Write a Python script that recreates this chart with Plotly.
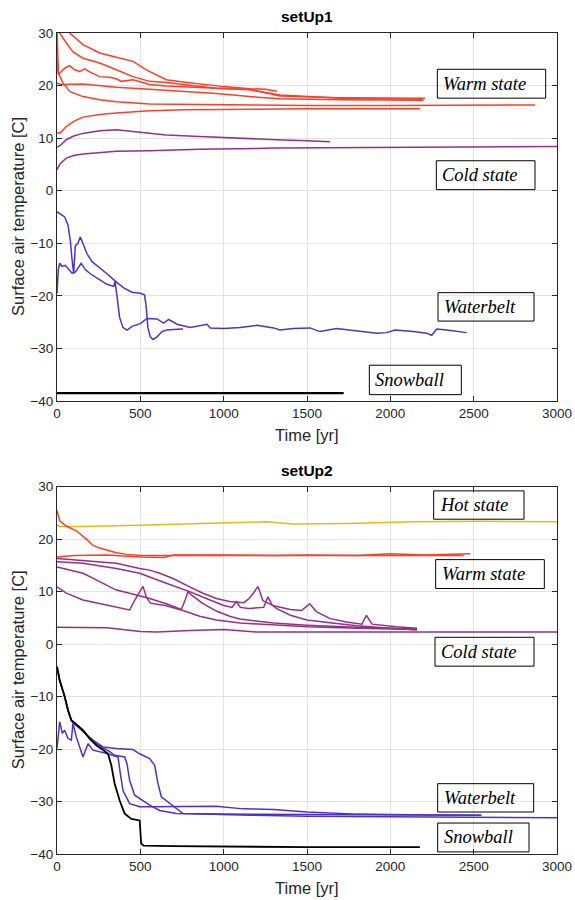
import plotly.graph_objects as go
from plotly.subplots import make_subplots

# ---------------- setUp1 data (time [yr], temperature [C]) ----------------
s1_warm_a_t = [0, 76, 156, 256, 356, 456, 536, 600, 656, 756, 856, 1000, 1156, 1250, 1320]
s1_warm_a_v = [34, 30, 27.8, 26.2, 25.4, 24.6, 23.0, 22.0, 21.1, 20.7, 20.3, 19.8, 19.4, 19.3, 18.9]
s1_warm_b_t = [0, 16, 56, 96, 156, 216, 256, 356, 456, 556, 656, 756, 956, 1156, 1338, 1700, 2000, 2208]
s1_warm_b_v = [32, 30, 28.1, 26.4, 25.2, 24.6, 24.3, 23.0, 21.7, 20.8, 20.6, 20.2, 19.5, 19.3, 18.0, 17.7, 17.6, 17.6]
s1_warm_c_t = [0, 8, 46, 76, 106, 136, 166, 196, 256, 316, 356, 386, 456, 556, 656, 856, 1156, 1338, 1700, 2190]
s1_warm_c_v = [25.2, 22.1, 23.3, 23.8, 23.0, 22.7, 23.2, 22.6, 21.7, 21.6, 21.3, 20.8, 21.1, 20.2, 19.9, 19.6, 19.2, 18.2, 17.6, 17.4]
s1_warm_d_t = [0, 20, 156, 356, 556, 756, 956, 1156, 1338, 1700, 2200]
s1_warm_d_v = [20.5, 20.2, 20.3, 19.7, 19.3, 18.9, 18.5, 17.9, 17.5, 17.3, 17.2]
s1_warm_e_t = [0, 8, 36, 76, 156, 256, 356, 556, 856, 1156, 1500, 2000, 2500, 2868]
s1_warm_e_v = [31, 22.4, 20.5, 18.9, 17.9, 17.3, 16.9, 16.5, 16.4, 16.3, 16.2, 16.2, 16.2, 16.3]
s1_warm_f_t = [0, 20, 56, 100, 156, 256, 356, 556, 756, 1156, 1500, 2178]
s1_warm_f_v = [11.0, 11.0, 12.2, 13.2, 14.0, 14.5, 14.8, 15.2, 15.4, 15.5, 15.6, 15.6]

s1_cold_a_t = [0, 20, 56, 100, 156, 256, 356, 456, 656, 856, 1056, 1316, 1500, 1638]
s1_cold_a_v = [8.3, 8.6, 9.7, 10.4, 10.9, 11.4, 11.6, 11.3, 10.6, 10.3, 10.0, 9.7, 9.5, 9.3]
s1_cold_b_t = [0, 20, 56, 100, 156, 256, 356, 556, 856, 1316, 2000, 2500, 3000]
s1_cold_b_v = [4.0, 5.2, 6.2, 6.7, 7.0, 7.3, 7.5, 7.6, 7.9, 8.1, 8.2, 8.3, 8.4]

s1_water_a_t = [0, 20, 46, 66, 80, 90, 100, 110, 125, 140, 160, 180, 210, 250, 300, 350, 400, 450,
                500, 525, 535, 545, 560, 576, 600, 630, 660, 700, 756]
s1_water_a_v = [-4.0, -4.4, -5.0, -6.5, -9.5, -13, -15.8, -10.5, -10.0, -8.8, -10.5, -12.0, -13.5, -14.5,
                -15.8, -17.2, -18.5, -19.3, -19.5, -19.8, -22, -26, -27.8, -28.3, -27.8, -26.8, -26.5, -26.4, -26.3]
s1_water_b_t = [0, 8, 16, 30, 50, 70, 90, 110, 130, 145, 170, 200, 250, 300, 340, 348, 360, 375, 395,
                420, 450, 500, 540, 600, 640, 670, 720, 800, 900, 920, 1000, 1100, 1200, 1300, 1338,
                1418, 1518, 1578, 1678, 1838, 1918, 1978, 2028, 2138, 2218, 2248, 2278, 2338, 2398, 2458]
s1_water_b_v = [-19.5, -15, -13.8, -14.4, -14.2, -15.0, -15.7, -15.5, -14.5, -13.8, -15.0, -15.8, -16.8,
                -17.8, -18.2, -17.3, -20.0, -24.0, -26.0, -26.5, -25.8, -25.3, -24.3, -24.4, -25.2, -24.5,
                -25.4, -26.0, -25.4, -26.1, -26.2, -26.0, -25.6, -26.1, -26.5, -26.2, -26.1, -26.8, -26.2,
                -26.8, -27.1, -27.0, -26.5, -26.8, -27.1, -27.5, -26.3, -26.5, -26.8, -27.0]

s1_snow_t = [0, 1720]
s1_snow_v = [-38.5, -38.5]

# ---------------- setUp2 data ----------------
s2_hot_t = [0, 20, 156, 356, 556, 756, 1056, 1256, 1416, 1738, 2138, 2538, 3000]
s2_hot_v = [22.7, 22.4, 22.4, 22.5, 22.7, 22.9, 23.1, 23.3, 22.9, 23.0, 23.3, 23.4, 23.3]

s2_warm_a_t = [0, 5, 16, 56, 116, 176, 216, 256, 296, 356, 420, 500, 700, 1000, 1500, 2000, 2440]
s2_warm_a_v = [25.5, 25.0, 23.5, 22.5, 21.6, 20.0, 18.8, 18.3, 17.9, 17.4, 17.1, 16.9, 16.9, 16.9, 16.9, 16.9, 16.9]
s2_warm_b_t = [0, 100, 300, 500, 640, 700, 1000, 1300, 1500, 1800, 2000, 2200, 2480]
s2_warm_b_v = [16.6, 16.9, 17.0, 16.6, 16.5, 17.0, 17.0, 16.9, 17.0, 16.9, 17.2, 17.0, 17.2]

s2_cold_a_t = [0, 156, 356, 496, 556, 616, 696, 796, 876, 956, 1036, 1120, 1150, 1180, 1206, 1235, 1300,
               1400, 1466, 1490, 1516, 1556, 1636, 1736, 1830, 1856, 1890, 2036, 2160]
s2_cold_a_v = [16.3, 15.9, 15.4, 14.4, 14.1, 13.5, 12.5, 10.9, 9.7, 8.7, 8.1, 7.9, 8.6, 9.8, 11.0, 8.3, 7.3,
               6.6, 6.4, 7.0, 7.7, 6.2, 4.9, 4.2, 3.8, 5.5, 3.8, 3.3, 3.0]
s2_cold_b_t = [0, 156, 356, 496, 656, 796, 896, 996, 1050, 1076, 1100, 1150, 1240, 1266, 1290, 1316, 1400,
               1500, 1650, 1800, 2000, 2160]
s2_cold_b_v = [15.7, 15.4, 14.4, 13.5, 11.6, 10.0, 8.7, 7.4, 7.0, 8.1, 7.0, 6.8, 7.0, 9.0, 7.5, 6.8, 5.5,
               4.6, 4.0, 3.5, 3.0, 2.7]
s2_cold_c_t = [0, 76, 156, 256, 356, 436, 556, 656, 746, 770, 786, 810, 876, 956, 1036, 1096, 1300, 1500, 1800, 2160]
s2_cold_c_v = [14.7, 14.1, 13.5, 11.9, 10.3, 9.7, 8.7, 7.7, 6.6, 8.5, 10.0, 9.3, 7.7, 6.3, 5.3, 4.8, 4.0, 3.6, 3.2, 2.9]
s2_cold_d_t = [0, 56, 156, 256, 356, 436, 460, 490, 516, 536, 560, 656, 756, 856, 956, 1100, 1300, 1500, 1800, 2160]
s2_cold_d_v = [10.9, 9.7, 8.4, 7.7, 7.1, 6.5, 8.0, 9.5, 11.0, 9.0, 7.8, 7.3, 6.4, 5.3, 4.6, 4.0, 3.6, 3.3, 3.0, 2.8]
s2_cold_e_t = [0, 300, 500, 600, 800, 1000, 1200, 1500, 2000, 2500, 3000]
s2_cold_e_v = [3.2, 3.1, 2.4, 2.3, 2.6, 2.8, 2.3, 2.3, 2.4, 2.4, 2.3]

s2_water_a_t = [0, 16, 32, 46, 66, 86, 96, 116, 156, 186, 216, 256, 306, 340, 366, 380, 396, 436, 496,
                556, 756, 956, 1116, 1300, 1500, 1800, 2100, 2400, 2546]
s2_water_a_v = [-19.9, -14.8, -17.0, -16.4, -18.0, -18.3, -15.1, -17.7, -21.5, -19.0, -20.2, -20.5, -20.9,
                -21.3, -21.5, -24.7, -27.9, -30.4, -31.0, -31.0, -30.9, -30.9, -31.4, -31.5, -32.0, -32.4,
                -32.5, -32.5, -32.6]
s2_water_b_t = [0, 16, 46, 66, 86, 96, 126, 156, 216, 276, 356, 456, 496, 556, 586, 606, 626, 676, 756,
                1156, 1500, 2000, 2500, 3000]
s2_water_b_v = [-4.3, -6.9, -10.0, -12.6, -14.5, -15.0, -15.8, -16.7, -18.3, -19.6, -19.9, -20.1, -20.9,
                -21.8, -23.1, -26.6, -29.1, -30.4, -32.3, -32.6, -32.8, -32.9, -33.0, -33.1]
s2_water_c_t = [0, 16, 46, 66, 86, 126, 156, 196, 236, 276, 316, 346, 406, 420, 436, 466, 516, 556, 616,
                716, 1000, 1500, 2000, 2546]
s2_water_c_v = [-4.3, -6.9, -10.0, -12.6, -14.5, -15.5, -16.4, -18.0, -19.0, -19.8, -20.5, -21.2, -21.5,
                -22.8, -26.0, -28.8, -29.8, -30.7, -31.7, -32.3, -32.4, -32.5, -32.5, -32.6]

s2_snow_t = [0, 16, 46, 66, 86, 126, 156, 196, 236, 276, 306, 326, 346, 376, 406, 446, 486, 496, 505,
             520, 700, 1000, 1500, 2177]
s2_snow_v = [-4.3, -6.9, -10.0, -12.6, -14.5, -15.5, -16.4, -18.0, -19.3, -20.2, -20.9, -23.1, -26.6,
             -29.8, -32.3, -33.3, -33.6, -33.6, -38.0, -38.4, -38.5, -38.6, -38.7, -38.7]

# state label boxes: (text, t_left, t_right, v_bottom, v_top)
s1_labels = [("Warm state", 2282, 2932, 17.6, 23.1),
             ("Cold state", 2276, 2868, 0.2, 5.7),
             ("Waterbelt", 2286, 2862, -24.8, -19.4),
             ("Snowball", 1874, 2426, -38.8, -33.2)]
s2_labels = [("Hot state", 2260, 2802, 23.8, 29.2),
             ("Warm state", 2272, 2924, 10.6, 16.1),
             ("Cold state", 2268, 2862, -4.2, 1.3),
             ("Waterbelt", 2284, 2860, -32.0, -26.6),
             ("Snowball", 2284, 2832, -39.6, -34.1)]

x_ticks = [0, 500, 1000, 1500, 2000, 2500, 3000]
y_ticks = [30, 20, 10, 0, -10, -20, -30, -40]

C_WARM = "#ff3d26"
C_COLD = "#972f87"
C_WATER = "#5130c9"
C_SNOW = "#000000"
C_HOT = "#e8b90f"

fig = make_subplots(rows=2, cols=1, vertical_spacing=0.1)

def add(row, t, v, color, width=1.5):
    fig.add_trace(go.Scatter(x=t, y=v, mode="lines", line=dict(color=color, width=width),
                             showlegend=False, hoverinfo="skip"), row=row, col=1)

for t, v in [(s1_warm_a_t, s1_warm_a_v), (s1_warm_b_t, s1_warm_b_v), (s1_warm_c_t, s1_warm_c_v),
             (s1_warm_d_t, s1_warm_d_v), (s1_warm_e_t, s1_warm_e_v), (s1_warm_f_t, s1_warm_f_v)]:
    add(1, t, v, C_WARM)
for t, v in [(s1_cold_a_t, s1_cold_a_v), (s1_cold_b_t, s1_cold_b_v)]:
    add(1, t, v, C_COLD)
for t, v in [(s1_water_a_t, s1_water_a_v), (s1_water_b_t, s1_water_b_v)]:
    add(1, t, v, C_WATER)
add(1, s1_snow_t, s1_snow_v, C_SNOW, 2.2)

add(2, s2_hot_t, s2_hot_v, C_HOT)
for t, v in [(s2_warm_a_t, s2_warm_a_v), (s2_warm_b_t, s2_warm_b_v)]:
    add(2, t, v, C_WARM)
for t, v in [(s2_cold_a_t, s2_cold_a_v), (s2_cold_b_t, s2_cold_b_v), (s2_cold_c_t, s2_cold_c_v),
             (s2_cold_d_t, s2_cold_d_v), (s2_cold_e_t, s2_cold_e_v)]:
    add(2, t, v, C_COLD)
for t, v in [(s2_water_a_t, s2_water_a_v), (s2_water_b_t, s2_water_b_v), (s2_water_c_t, s2_water_c_v)]:
    add(2, t, v, C_WATER)
add(2, s2_snow_t, s2_snow_v, C_SNOW, 1.8)

axis_col = "#262626"
tickfont = dict(family="Liberation Sans, Arial, sans-serif", size=13.5, color=axis_col)
common_x = dict(range=[0, 3000], tickvals=x_ticks, ticks="inside", ticklen=5, tickcolor=axis_col,
                showline=True, linecolor=axis_col, linewidth=1, mirror="ticks", automargin=False,
                showgrid=True, gridcolor="#e3e3e3", gridwidth=1, zeroline=False, tickfont=tickfont)
common_y = dict(range=[-40, 30], tickvals=y_ticks, ticks="inside", ticklen=5, tickcolor=axis_col,
                showline=True, linecolor=axis_col, linewidth=1, mirror="ticks", automargin=False,
                showgrid=True, gridcolor="#e3e3e3", gridwidth=1, zeroline=False, tickfont=tickfont)

fig.update_layout(
    width=575, height=900, margin=dict(l=57, r=18, t=33, b=46), autosize=False,
    plot_bgcolor="white", paper_bgcolor="white",
    xaxis=dict(domain=[0, 1], anchor="y", **common_x),
    yaxis=dict(domain=[0.5518, 1.0], anchor="x", **common_y),
    xaxis2=dict(domain=[0, 1], anchor="y2", **common_x),
    yaxis2=dict(domain=[0.0, 0.4474], anchor="x2", **common_y),
)

label_font = dict(family="Liberation Sans, Arial, sans-serif", size=16.5, color=axis_col)
box_font = dict(family="Liberation Serif, Times New Roman, serif", size=18.5, color="#000000")

for i, (title, labels) in enumerate([("setUp1", s1_labels), ("setUp2", s2_labels)]):
    xr = "x" if i == 0 else "x2"
    yr = "y" if i == 0 else "y2"
    fig.add_annotation(text="<b>" + title + "</b>", xref=xr + " domain", yref=yr + " domain",
                       x=0.5, y=1, xanchor="center", yanchor="bottom", yshift=6, showarrow=False,
                       font=dict(family="Liberation Sans, Arial, sans-serif", size=15.5, color="#000000"))
    fig.add_annotation(text="Time [yr]", xref=xr + " domain", yref=yr + " domain",
                       x=0.5, y=0, xanchor="center", yanchor="middle", yshift=-34, showarrow=False,
                       font=label_font)
    fig.add_annotation(text="Surface air temperature [C]", xref=xr + " domain", yref=yr + " domain",
                       x=0, y=0.5, xanchor="center", yanchor="middle", xshift=-39, textangle=-90,
                       showarrow=False, font=label_font)
    for text, x0, x1, y0, y1 in labels:
        fig.add_shape(type="rect", xref=xr, yref=yr, x0=x0, x1=x1, y0=y0, y1=y1,
                      line=dict(color="#000000", width=1), fillcolor="rgba(0,0,0,0)")
        fig.add_annotation(text="<i>" + text + "</i>", xref=xr, yref=yr, x=x0, y=(y0 + y1) / 2,
                           xanchor="left", yanchor="middle", xshift=4, showarrow=False, font=box_font)

fig.write_html("out.html")
